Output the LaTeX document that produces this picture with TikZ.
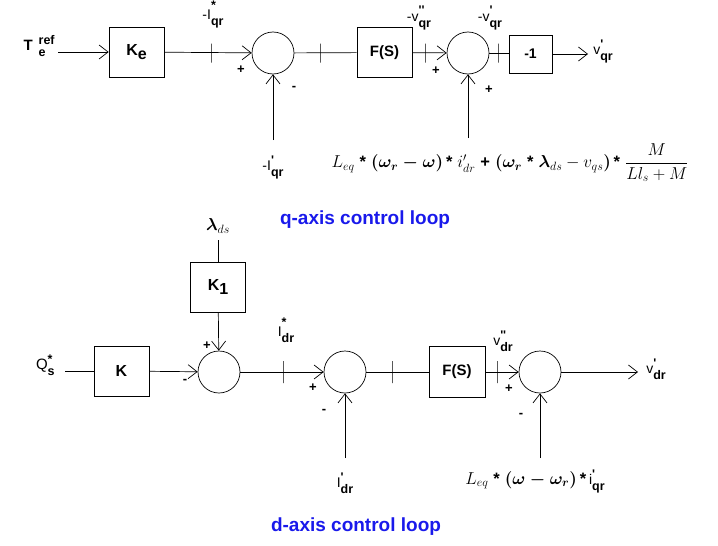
\documentclass[tikz,border=0pt]{standalone}
\usepackage{amsmath,amssymb}
\usepackage{fontspec}
\setsansfont{Liberation Sans}
\usetikzlibrary{arrows.meta}
\definecolor{loopblue}{RGB}{25,25,235}
\newcommand{\pr}{\textquotesingle}
\newcommand{\bstar}{\text{\sffamily\bfseries *}}
% main letter with a superscript over a subscript
\newcommand{\lblx}[3]{#1\raisebox{-6pt}{\fontsize{12.5}{15}\selectfont\bfseries\begin{tabular}[b]{@{}l@{}}#2\\[-3pt]#3\end{tabular}}}

\begin{document}
\begin{tikzpicture}[x=1pt,y=-1pt,line width=0.7pt,
  block/.style={draw,minimum width=55,minimum height=50,inner sep=0pt,font=\sffamily\bfseries\fontsize{16}{18}\selectfont},
  sum/.style={draw,circle,minimum size=42,inner sep=0pt},
  lbl/.style={font=\sffamily\fontsize{14}{16}\selectfont,inner sep=1pt},
  sgn/.style={font=\sffamily\bfseries\fontsize{13}{15}\selectfont,inner sep=0pt},
  frm/.style={font=\fontsize{16.5}{19}\selectfont,inner sep=0pt},
  sig/.style={-{Straight Barb[length=9pt,width=14pt]}},
  tickm/.style={draw,minimum width=0pt,minimum height=19pt,inner sep=0pt,outer sep=0pt},
  looptitle/.style={font=\sffamily\bfseries\fontsize{19}{22}\selectfont,text=loopblue}
]
\useasboundingbox (0,0) rectangle (718,546);

% q-axis control loop
\coordinate (qin) at (58,52);
\node[lbl,anchor=east] (tref) at (56,47) {\lblx{\fontsize{15}{17}\selectfont\textbf{T}\hspace{6pt}}{ref}{e}};
\node[block] (ke) at (136.5,52) {K\raisebox{-4pt}{e}};
\node[sum] (s1) at (273,53) {};
\node[block,font=\sffamily\bfseries\fontsize{15}{17}\selectfont] (fs1) at (384.5,52.5) {F(S)};
\node[sum] (s2) at (468,53) {};
\node[block,minimum width=43,minimum height=38,font=\sffamily\bfseries\fontsize{14}{17}\selectfont] (neg) at (530.5,54) {-1};
\coordinate (qout) at (588,54);
\coordinate (fb1) at (273,140);
\coordinate (fb2) at (468,138);

\foreach \tx/\tn in {211/t1,320/t2,425/t3,498/t4} {
  \node[tickm] (\tn) at (\tx,53) {};
}

\draw[sig] (qin) -- (ke);
\draw[sig] (ke) -- (s1);
\draw (s1) -- (fs1);
\draw[sig] (fs1) -- (s2);
\draw (s2) -- (s2 -| neg.west);
\draw[sig] (neg) -- (qout);
\draw[sig] (fb1) -- (s1);
\draw[sig] (fb2) -- (s2);

\node[lbl] (iqrs) at (213,15) {\lblx{-I}{\raisebox{4pt}{*}}{qr}};
\node[lbl,anchor=north] (iqr) at (fb1) [yshift=-13] {\lblx{-I}{\pr}{qr}};
\node[lbl] (vqr2) at (419,18) {\lblx{-v}{\pr\pr}{qr}};
\node[lbl] (vqr1) at (490,18) {\lblx{-v}{\pr}{qr}};
\node[lbl,anchor=west] (vqr) at (592,51) {\lblx{v}{\pr}{qr}};
\node[sgn] at (241,70) {+};
\node[sgn] at (294,88) {-};
\node[sgn] at (436,71) {+};
\node[sgn] at (489,90) {+};
\node[frm] (fq) at (510,163) {$L_{eq}\ \bstar\ \boldsymbol{(\omega_r-\omega)}\,\bstar\ i'_{dr}\ \text{\sffamily\bfseries +}\ \boldsymbol{(\omega_r}\ \bstar\ \boldsymbol{\lambda}_{ds}-v_{qs}\boldsymbol{)}\,\bstar\ \dfrac{M}{Ll_s+M}$};

\node[looptitle] (qtitle) at (365,220) {q-axis control loop};

% d-axis control loop
\node[frm] (lds) at (218,226) {$\boldsymbol{\lambda}_{ds}$};
\coordinate (ldsl) at (218,240);
\node[block] (k1) at (218,287) {K\raisebox{-4pt}{1}};
\coordinate (din) at (65,371);
\node[lbl,anchor=east] (qs) at (56,366) {\lblx{\fontsize{15}{17}\selectfont Q}{*}{s}};
\node[block] (k) at (121.5,371) {K};
\node[sum] (s3) at (219,372) {};
\node[sum] (s4) at (345,372) {};
\node[block,minimum width=56,minimum height=51,font=\sffamily\bfseries\fontsize{15}{17}\selectfont] (fs2) at (457,372) {F(S)};
\node[sum] (s5) at (540,372) {};
\coordinate (dout) at (638,372);
\coordinate (fb4) at (345,458);
\coordinate (fb5) at (540,458);

\foreach \tx/\tn in {283/t5,392/t6,497/t7} {
  \node[tickm,minimum height=22pt] (\tn) at (\tx,372) {};
}

\draw (ldsl) -- (k1);
\draw[sig] (k1) -- (s3);
\draw (din) -- (k);
\draw[sig] (k) -- (s3);
\draw[sig] (s3) -- (s4);
\draw (s4) -- (fs2);
\draw[sig] (fs2) -- (s5);
\draw[sig] (s5) -- (dout);
\draw[sig] (fb4) -- (s4);
\draw[sig] (fb5) -- (s5);

\node[lbl] (idrs) at (286,332) {\lblx{I}{\raisebox{4pt}{*}}{dr}};
\node[lbl,anchor=north] (idr) at (fb4) [yshift=-12] {\lblx{I}{\pr}{dr}};
\node[lbl] (vdr2) at (503,342) {\lblx{v}{\pr\pr}{dr}};
\node[lbl,anchor=west] (vdr) at (645,370) {\lblx{v}{\pr}{dr}};
\node[sgn] at (207,346) {+};
\node[sgn] at (185,381) {-};
\node[sgn] at (313,388) {+};
\node[sgn] at (324,411) {-};
\node[sgn] at (509,389) {+};
\node[sgn] at (521,415) {-};
\node[frm] (fd) at (535,481) {$L_{eq}\ \bstar\ \boldsymbol{(\omega-\omega_r)}\,\bstar$\,{\sffamily\fontsize{14}{16}\selectfont\lblx{i}{\pr}{qr}}};

\node[looptitle] (dtitle) at (356,527) {d-axis control loop};

\end{tikzpicture}
\end{document}
